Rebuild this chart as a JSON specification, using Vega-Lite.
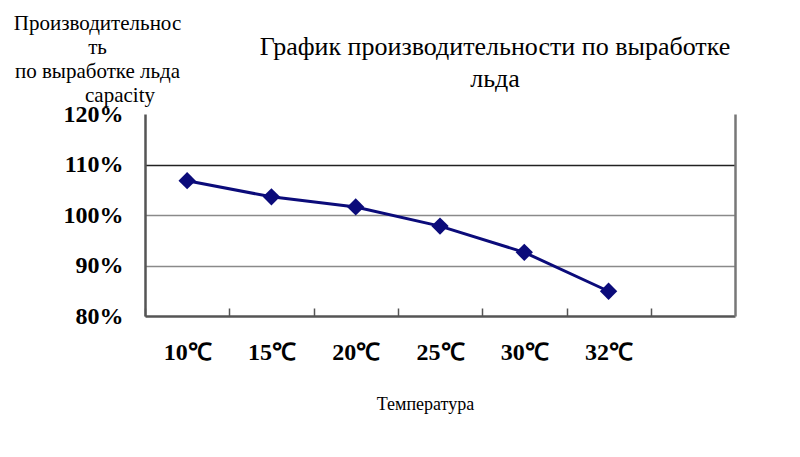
{
  "$schema": "https://vega.github.io/schema/vega-lite/v6.json",
  "width": 590,
  "height": 202,
  "autosize": {"type": "none"},
  "padding": {"left": 145, "top": 114, "right": 65, "bottom": 141},
  "background": "white",
  "data": {
    "values": [
      {"temp": "10℃", "capacity": 106.8},
      {"temp": "15℃", "capacity": 103.6},
      {"temp": "20℃", "capacity": 101.6},
      {"temp": "25℃", "capacity": 97.8},
      {"temp": "30℃", "capacity": 92.6},
      {"temp": "32℃", "capacity": 84.9}
    ]
  },
  "title": {
    "text": ["График производительности по выработке", "льда"],
    "font": "Liberation Serif",
    "fontSize": 26,
    "fontWeight": "normal",
    "color": "#000",
    "anchor": "middle",
    "dx": 55,
    "dy": 108,
    "offset": 28,
    "lineHeight": 32
  },
  "config": {
    "font": "Liberation Serif",
    "title": {"font": "Liberation Serif"},
    "view": {"stroke": null},
    "axis": {"labelFont": "Liberation Serif", "titleFont": "Liberation Serif"}
  },
  "layer": [
    {
      "mark": {"type": "line", "color": "#0b0b7a", "strokeWidth": 3},
      "encoding": {
        "x": {
          "field": "temp",
          "type": "ordinal",
          "sort": null,
          "scale": {"domain": ["10℃", "15℃", "20℃", "25℃", "30℃", "32℃", "—"]},
          "axis": {
            "tickOffset": -42,
            "labelOffset": 42,
            "labelAngle": 0,
            "labelExpr": "datum.value == '—' ? '' : datum.value",
            "labelFontSize": 24,
            "labelFontWeight": "bold",
            "labelColor": "#000",
            "labelPadding": 32,
            "labelBaseline": "top",
            "tickSize": -8,
            "tickColor": "#555",
            "tickWidth": 1.5,
            "domainColor": "#555",
            "domainWidth": 2.5,
            "grid": false,
            "title": "Температура",
            "titleFontSize": 18,
            "titleFontWeight": "normal",
            "titleColor": "#000",
            "titleX": 280,
            "titleY": 79,
            "titleBaseline": "top"
          }
        },
        "y": {
          "field": "capacity",
          "type": "quantitative",
          "scale": {"domain": [80, 120], "nice": false, "zero": false},
          "axis": {
            "values": [80, 90, 100, 110, 120],
            "labelExpr": "datum.value + '%'",
            "labelFontSize": 24,
            "labelFontWeight": "bold",
            "labelColor": "#000",
            "labelPadding": 22,
            "ticks": false,
            "domainColor": "#555",
            "domainWidth": 2.5,
            "grid": true,
            "gridColor": {"condition": {"test": "datum.value == 110", "value": "#222"}, "value": "#8a8a8a"},
            "gridOpacity": {"condition": {"test": "datum.value == 120 || datum.value == 80", "value": 0}, "value": 1},
            "gridWidth": 1.5,
            "title": ["Производительнос", "ть", "по выработке льда", "\u2800\u2800\u2800capacity"],
            "titleFontSize": 21,
            "titleFontWeight": "normal",
            "titleColor": "#000",
            "titleAngle": 0,
            "titleAlign": "center",
            "titleBaseline": "top",
            "titleLineHeight": 24,
            "titleX": -48,
            "titleY": -102
          }
        }
      }
    },
    {
      "mark": {"type": "point", "shape": "diamond", "filled": true, "size": 300, "color": "#0b0b7a", "opacity": 1},
      "encoding": {
        "x": {"field": "temp", "type": "ordinal", "sort": null},
        "y": {
          "field": "capacity",
          "type": "quantitative",
          "axis": {"orient": "right", "labels": false, "ticks": false, "grid": false, "title": null, "domainColor": "#777", "domainWidth": 2.5}
        }
      }
    }
  ],
  "resolve": {"axis": {"y": "independent"}}
}
